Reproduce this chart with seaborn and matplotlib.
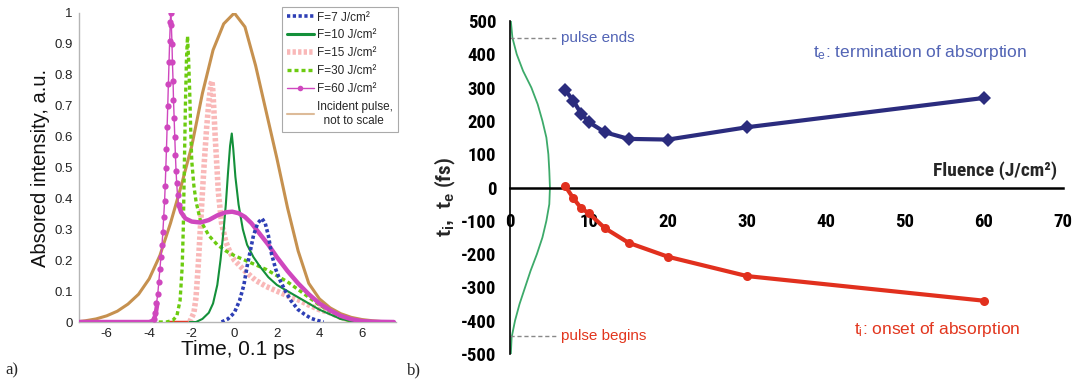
import numpy as np
import pandas as pd
import matplotlib
matplotlib.use("Agg")
import matplotlib.pyplot as plt
from matplotlib import font_manager
import seaborn as sns

# -------------------------------
# Panel a) absorbed intensity vs time (read off the picture)
# -------------------------------
t_pulse = [-7.5, -7.0, -6.5, -6.0, -5.5, -5.0, -4.5, -4.0, -3.5, -3.0, -2.5, -2.0, -1.5, -1.0, -0.5, 0.0,
           0.5, 1.0, 1.5, 2.0, 2.5, 3.0, 3.5, 4.0, 4.5, 5.0, 5.5, 6.0, 6.5, 7.0, 7.5]
i_pulse = [0.0, 0.004, 0.01, 0.02, 0.035, 0.058, 0.09, 0.14, 0.215, 0.32, 0.44, 0.57, 0.74, 0.88, 0.965, 1.0,
           0.955, 0.83, 0.68, 0.53, 0.37, 0.23, 0.125, 0.075, 0.046, 0.027, 0.015, 0.008, 0.004, 0.001, 0.0]

t_f7 = [-0.6, -0.3, 0.0, 0.25, 0.45, 0.6, 0.75, 0.9, 1.1, 1.3, 1.45, 1.6, 1.75, 1.95, 2.15, 2.4, 2.65, 3.0,
        3.3, 3.6, 3.9, 4.2]
i_f7 = [0.0, 0.01, 0.03, 0.07, 0.12, 0.18, 0.23, 0.28, 0.32, 0.335, 0.32, 0.28, 0.22, 0.17, 0.135, 0.1, 0.07,
        0.04, 0.025, 0.012, 0.005, 0.0]

t_f10 = [-2.1, -1.8, -1.5, -1.2, -1.0, -0.8, -0.65, -0.5, -0.4, -0.3, -0.2, -0.12, -0.05, 0.05, 0.2, 0.4, 0.6,
         0.9, 1.2, 1.6, 2.0, 2.5, 3.0, 3.5, 4.0, 4.5, 5.0, 5.5, 6.0, 7.5]
i_f10 = [0.0, 0.0, 0.01, 0.03, 0.06, 0.12, 0.2, 0.3, 0.38, 0.48, 0.57, 0.61, 0.56, 0.47, 0.38, 0.3, 0.25,
         0.21, 0.18, 0.145, 0.12, 0.1, 0.08, 0.06, 0.04, 0.025, 0.01, 0.003, 0.0, 0.0]

t_f15 = [-2.1, -1.9, -1.8, -1.7, -1.6, -1.5, -1.4, -1.3, -1.2, -1.1, -1.05, -1.0, -0.95, -0.9, -0.75, -0.6,
         -0.4, -0.2, 0.0, 0.5, 1.0, 1.5, 2.0, 2.5, 3.0, 3.5, 4.0, 4.5, 5.0, 5.5, 6.0]
i_f15 = [0.0, 0.03, 0.08, 0.18, 0.3, 0.42, 0.53, 0.63, 0.71, 0.77, 0.78, 0.74, 0.67, 0.6, 0.42, 0.32,
         0.26, 0.225, 0.2, 0.165, 0.135, 0.115, 0.1, 0.085, 0.072, 0.055, 0.04, 0.03, 0.015, 0.005, 0.0]
t_f15_base = [-3.1, -2.1]
i_f15_base = [0.0, 0.0]

t_f30 = [-7.5, -3.2, -2.9, -2.7, -2.55, -2.45, -2.4, -2.35, -2.3, -2.25, -2.2, -2.15, -2.1, -2.05, -2.0, -1.9,
         -1.8, -1.6, -1.2, -0.8, -0.4, 0.0, 0.5, 1.0, 1.5, 2.0, 2.5, 3.0, 3.5, 4.0, 4.5, 5.0, 5.5, 6.0, 7.5]
i_f30 = [0.0, 0.0, 0.005, 0.02, 0.07, 0.18, 0.3, 0.5, 0.7, 0.85, 0.925, 0.85, 0.75, 0.62, 0.52, 0.44,
         0.39, 0.33, 0.28, 0.25, 0.23, 0.215, 0.2, 0.185, 0.17, 0.15, 0.13, 0.105, 0.08, 0.055, 0.035, 0.012,
         0.003, 0.0, 0.0]

# F=60: the fast spike shows single dots, the slow parts look like a thick line
t_f60_spike = [-3.78, -3.72, -3.66, -3.60, -3.55, -3.50, -3.45, -3.40, -3.36, -3.32, -3.28, -3.25, -3.22,
               -3.19, -3.16, -3.13, -3.10, -3.07, -3.04, -3.01, -2.99, -2.96, -2.93, -2.91, -2.88, -2.86,
               -2.83, -2.80, -2.77, -2.74, -2.71, -2.67, -2.62]
i_f60_spike = [0.01, 0.03, 0.06, 0.09, 0.13, 0.17, 0.21, 0.25, 0.29, 0.34, 0.39, 0.44, 0.50,
               0.56, 0.63, 0.70, 0.77, 0.84, 0.91, 0.97, 1.0, 0.96, 0.90, 0.84, 0.78, 0.72,
               0.66, 0.60, 0.54, 0.49, 0.45, 0.41, 0.38]
t_f60_base = [-7.5, -4.0, -3.8, -3.7, -3.62]
i_f60_base = [0.0, 0.0, 0.005, 0.025, 0.06]
t_f60_tail = [-2.62, -2.5, -2.3, -2.0, -1.6, -1.2, -0.8, -0.4, -0.1, 0.2, 0.5, 0.8, 1.2, 1.6, 2.0, 2.5, 3.0,
              3.5, 4.0, 4.5, 5.0, 5.5, 6.0, 6.5, 7.5]
i_f60_tail = [0.38, 0.355, 0.335, 0.325, 0.322, 0.33, 0.345, 0.355, 0.357, 0.352, 0.34, 0.32, 0.285, 0.25,
              0.21, 0.165, 0.125, 0.09, 0.06, 0.038, 0.02, 0.009, 0.003, 0.001, 0.0]

# -------------------------------
# Panel b) onset / termination times vs fluence
# -------------------------------
fluence = [7, 8, 9, 10, 12, 15, 20, 30, 60]
t_e = [292, 261, 222, 196, 166, 146, 144, 181, 269]
t_i = [4, -32, -62, -78, -122, -166, -208, -266, -340]

# incident pulse sketched along the time axis (x = height, y = time in fs)
pulse_y = [500, 450, 400, 350, 300, 250, 200, 150, 100, 50, 0, -50, -100, -150, -200, -250, -300, -350,
           -400, -450, -500]
pulse_x = [0.1, 0.3, 0.85, 1.65, 2.7, 3.5, 4.1, 4.6, 4.85, 4.97, 5.05, 4.97, 4.6, 4.1, 3.4, 2.6, 1.9, 1.2,
           0.63, 0.2, 0.1]

# -------------------------------
# Figure
# -------------------------------
sns.set_style("white")
plt.rcParams["font.family"] = ["Liberation Sans", "DejaVu Sans"]
plt.rcParams["axes.unicode_minus"] = False
plt.rcParams["mathtext.fontset"] = "custom"
plt.rcParams["mathtext.rm"] = "Liberation Sans"
plt.rcParams["mathtext.bf"] = "Liberation Sans:bold"

# condensed bold font for panel b, if one is installed
installed = {f.name for f in font_manager.fontManager.ttflist}
condensed_dejavu = any(f.name == "DejaVu Sans" and "condensed" in str(f.stretch) for f in font_manager.fontManager.ttflist)
narrow = dict(family="Liberation Sans", stretch="normal")
nscale = 0.88
for cand in ["Liberation Sans Narrow", "Roboto Condensed", "Open Sans Condensed", "Noto Sans Condensed"]:
    if cand in installed:
        narrow = dict(family=cand, stretch="normal")
        nscale = 1.0
        break
else:
    if condensed_dejavu:
        narrow = dict(family="DejaVu Sans", stretch="condensed")
        nscale = 0.95

fig = plt.figure(figsize=(10.74, 3.8), dpi=100)
ax1 = fig.add_axes([0.0736, 0.1526, 0.2951, 0.8132])
ax2 = fig.add_axes([0.4749, 0.0684, 0.5149, 0.8763])

# --- panel a
c_pulse = "#C6914F"
sns.lineplot(x=t_pulse, y=i_pulse, ax=ax1, color=c_pulse, lw=2.2, sort=False, estimator=None, zorder=2)
sns.lineplot(x=t_f15_base, y=i_f15_base, ax=ax1, color="#E03A2A", lw=2.5, sort=False, estimator=None, zorder=3)
sns.lineplot(x=t_f15, y=i_f15, ax=ax1, color="#F9B8B8", lw=4, linestyle=(0, (0.6, 0.4)),
             sort=False, estimator=None, zorder=3)
sns.lineplot(x=t_f30, y=i_f30, ax=ax1, color="#6CCB10", lw=2.4, linestyle=(0, (1.2, 0.9)),
             sort=False, estimator=None, zorder=4)
sns.lineplot(x=t_f10, y=i_f10, ax=ax1, color="#14903A", lw=1.5, sort=False, estimator=None, zorder=5)
c60 = "#CF47BE"
sns.lineplot(x=t_f60_base, y=i_f60_base, ax=ax1, color=c60, lw=3.2, sort=False, estimator=None, zorder=6)
sns.lineplot(x=t_f60_tail, y=i_f60_tail, ax=ax1, color=c60, lw=3.2, sort=False, estimator=None, zorder=6)
sns.lineplot(x=t_f60_spike, y=i_f60_spike, ax=ax1, color=c60, lw=1.0, marker="o", markersize=4.5,
             markeredgewidth=0, sort=False, estimator=None, zorder=6)
sns.lineplot(x=t_f7, y=i_f7, ax=ax1, color="#2E3FB5", lw=2.6, linestyle=(0, (0.9, 0.7)),
             sort=False, estimator=None, zorder=7)

ax1.set_xlim(-7.3, 7.6)
ax1.set_ylim(0, 1.0)
ax1.set_xticks([-6, -4, -2, 0, 2, 4, 6])
ax1.set_yticks(np.arange(0, 1.01, 0.1))
ax1.set_yticklabels(["0", "0.1", "0.2", "0.3", "0.4", "0.5", "0.6", "0.7", "0.8", "0.9", "1"])
ax1.tick_params(labelsize=9.5, colors="#222222", length=2.5, width=0.8, pad=2)
ax1.tick_params(axis="both", color="#aaaaaa")
for s in ["top", "right"]:
    ax1.spines[s].set_visible(False)
for s in ["left", "bottom"]:
    ax1.spines[s].set_color("#b5b5b5")
    ax1.spines[s].set_linewidth(1.0)
ax1.set_xlabel("Time, 0.1 ps", fontsize=15, labelpad=0, color="#111111")
ax1.set_ylabel("Absored intensity, a.u.", fontsize=14.5, labelpad=3, color="#111111")

# legend handles
h = [
    plt.Line2D([], [], color="#2E3FB5", lw=2.6, linestyle=(0, (0.9, 0.7))),
    plt.Line2D([], [], color="#14903A", lw=2.2),
    plt.Line2D([], [], color="#F9B8B8", lw=4, linestyle=(0, (0.6, 0.4))),
    plt.Line2D([], [], color="#6CCB10", lw=2.4, linestyle=(0, (1.2, 0.9))),
    plt.Line2D([], [], color=c60, lw=1.0, marker="o", markersize=4, markeredgewidth=0),
    plt.Line2D([], [], color="#DDBB99", lw=1.5),
]
labels = ["F=7 J/cm\u00b2", "F=10 J/cm\u00b2", "F=15 J/cm\u00b2", "F=30 J/cm\u00b2", "F=60 J/cm\u00b2",
          "Incident pulse,\n  not to scale"]
leg = ax1.legend(h, labels, loc="upper right", bbox_to_anchor=(1.006, 1.02), borderaxespad=0,
                 fontsize=8.5, frameon=True, fancybox=False, edgecolor="#aaaaaa", framealpha=1,
                 handlelength=2.3, handletextpad=0.3, labelspacing=0.5, borderpad=0.4, numpoints=1)
leg.get_frame().set_linewidth(0.8)

# --- panel b
sns.lineplot(x=pulse_x, y=pulse_y, ax=ax2, color="#3DAA6A", lw=1.3, sort=False, estimator=None, zorder=2)
sns.lineplot(x=fluence, y=t_e, ax=ax2, color="#2B2C7E", lw=3, marker="D", markersize=7,
             markeredgewidth=0, sort=False, estimator=None, zorder=4)
sns.lineplot(x=fluence, y=t_i, ax=ax2, color="#E1301E", lw=3, marker="o", markersize=6.5,
             markeredgewidth=0, sort=False, estimator=None, zorder=4)

ax2.plot([0, 5.8], [450, 450], color="#888888", lw=1, linestyle=(0, (3, 2)))
ax2.plot([0, 5.8], [-447, -447], color="#888888", lw=1, linestyle=(0, (3, 2)))
ax2.text(6.4, 450, "pulse ends", color="#5264B5", fontsize=11, va="center", ha="left")
ax2.text(6.4, -447, "pulse begins", color="#E2361E", fontsize=11, va="center", ha="left")
ax2.text(38.3, 405, r"$\mathrm{t_e}$: termination of absorption", color="#5264B5", fontsize=12.5,
         va="center", ha="left")
ax2.text(43.5, -425, r"$\mathrm{t_i}$: onset of absorption", color="#E2361E", fontsize=12.5,
         va="center", ha="left")
ax2.text(69.3, 22, "Fluence (J/cm\u00b2)", fontsize=14 * nscale, fontweight="bold", ha="right", va="bottom",
         **narrow)

ax2.set_xlim(0, 70)
ax2.set_ylim(-500, 500)
ax2.set_xticks(range(0, 71, 10))
ax2.set_yticks(range(-500, 501, 100))
ax2.spines["top"].set_visible(False)
ax2.spines["right"].set_visible(False)
ax2.spines["bottom"].set_position(("data", 0))
ax2.spines["bottom"].set_linewidth(1.8)
ax2.spines["left"].set_linewidth(1.2)
ax2.spines["bottom"].set_color("black")
ax2.spines["left"].set_color("black")
ax2.tick_params(axis="x", direction="out", length=5, width=1, pad=13, colors="black")
ax2.tick_params(axis="y", direction="out", length=5, width=1, pad=5, colors="black")
for lab in ax2.get_xticklabels() + ax2.get_yticklabels():
    lab.set_fontfamily(narrow["family"])
    lab.set_fontstretch(narrow["stretch"])
    lab.set_fontweight("bold")
    lab.set_fontsize(13.5 * nscale)
ax2.set_xlabel("")
ax2.set_ylabel("")
fig.text(445 / 1074, 1 - 197 / 380, r"$\mathbf{t_i,\ t_e}$ (fs)", rotation=90, fontsize=15 * nscale,
         fontweight="bold", ha="center", va="center", **narrow)

# panel letters
fig.text(5 / 1074, 1 - 370 / 380, "a)", family=["Liberation Serif", "DejaVu Serif"], fontsize=12,
         va="center", ha="left")
fig.text(407 / 1074, 1 - 370 / 380, "b)", family=["Liberation Serif", "DejaVu Serif"], fontsize=12,
         va="center", ha="left")

fig.savefig("out.png", dpi=100)
